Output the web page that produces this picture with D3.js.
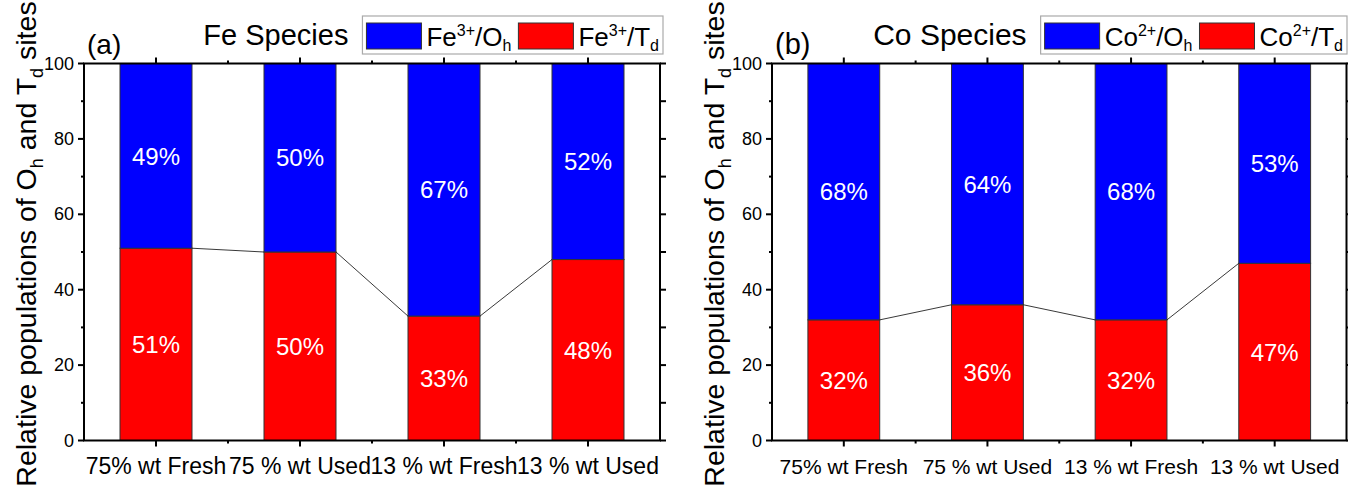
<!DOCTYPE html>
<html>
<head>
<meta charset="utf-8">
<script src="https://cdn.jsdelivr.net/npm/d3@7"></script>
<style>
  html, body { margin: 0; padding: 0; background: #fff; }
  svg { display: block; font-family: "Liberation Sans", Arial, sans-serif; }
  text { white-space: pre; }
</style>
</head>
<body>
<svg id="chart" width="1348" height="486"></svg>
<script>
// categories and values
const categories = ['75% wt Fresh', '75 % wt Used', '13 % wt Fresh', '13 % wt Used'];
const feOh = [49, 50, 67, 52];
const feTd = [51, 50, 33, 48];
const coOh = [68, 64, 68, 53];
const coTd = [32, 36, 32, 47];
const yMajor = [0, 20, 40, 60, 80, 100];
const yMinor = [10, 30, 50, 70, 90];

const BLUE = '#0000ff';
const RED = '#ff0000';

const svg = d3.select('#chart');

function drawPanel(o) {
  const g = svg.append('g');
  const x = d3.scaleBand()
    .domain(categories)
    .range([o.left, o.right])
    .paddingInner(0.5)
    .paddingOuter(0.25);
  const y = d3.scaleLinear().domain([0, 100]).range([o.bottom, o.top]);
  const bw = x.bandwidth();

  // stacked bars: Td at bottom, Oh on top
  const rows = categories.map((c, i) => ({ c, oh: o.oh[i], td: o.td[i] }));

  g.selectAll('rect.td')
    .data(rows)
    .enter()
    .append('rect')
    .attr('class', 'td')
    .attr('x', d => x(d.c))
    .attr('width', bw)
    .attr('y', d => y(d.td))
    .attr('height', d => y(0) - y(d.td))
    .attr('fill', RED)
    .attr('stroke', '#333')
    .attr('stroke-width', 1);

  g.selectAll('rect.oh')
    .data(rows)
    .enter()
    .append('rect')
    .attr('class', 'oh')
    .attr('x', d => x(d.c))
    .attr('width', bw)
    .attr('y', d => y(d.td + d.oh))
    .attr('height', d => y(d.td) - y(d.td + d.oh))
    .attr('fill', BLUE)
    .attr('stroke', '#333')
    .attr('stroke-width', 1);

  // connecting lines between the tops of the red segments
  const links = rows.slice(1).map((d, i) => ({ a: rows[i], b: d }));
  g.selectAll('line.link')
    .data(links)
    .enter()
    .append('line')
    .attr('class', 'link')
    .attr('x1', d => x(d.a.c) + bw)
    .attr('y1', d => y(d.a.td))
    .attr('x2', d => x(d.b.c))
    .attr('y2', d => y(d.b.td))
    .attr('stroke', '#222')
    .attr('stroke-width', 0.9);

  // percentage labels
  const fs = 24;
  g.selectAll('text.lblOh')
    .data(rows)
    .enter()
    .append('text')
    .attr('x', d => x(d.c) + bw / 2)
    .attr('y', d => (y(d.td) + y(d.td + d.oh)) / 2 + fs * 0.36)
    .attr('text-anchor', 'middle')
    .attr('font-size', fs)
    .attr('fill', '#fff')
    .text(d => d.oh + '%');
  g.selectAll('text.lblTd')
    .data(rows)
    .enter()
    .append('text')
    .attr('x', d => x(d.c) + bw / 2)
    .attr('y', d => (y(0) + y(d.td)) / 2 + fs * 0.36)
    .attr('text-anchor', 'middle')
    .attr('font-size', fs)
    .attr('fill', '#fff')
    .text(d => d.td + '%');

  // frame and ticks
  const ax = g.append('g').attr('stroke', '#000').attr('stroke-width', 2);
  ax.append('rect')
    .attr('x', o.left)
    .attr('y', o.top)
    .attr('width', o.right - o.left)
    .attr('height', o.bottom - o.top)
    .attr('fill', 'none');

  const minorX = d3.range(1, categories.length).map(i => o.left + x.step() * i);
  categories.forEach(c => {
    const cx = x(c) + bw / 2;
    ax.append('line').attr('x1', cx).attr('x2', cx).attr('y1', o.bottom).attr('y2', o.bottom + 6);
    ax.append('line').attr('x1', cx).attr('x2', cx).attr('y1', o.top).attr('y2', o.top - 6);
  });
  minorX.forEach(mx => {
    ax.append('line').attr('x1', mx).attr('x2', mx).attr('y1', o.bottom).attr('y2', o.bottom + 3);
    ax.append('line').attr('x1', mx).attr('x2', mx).attr('y1', o.top).attr('y2', o.top - 3);
  });
  yMajor.forEach(v => {
    ax.append('line').attr('x1', o.left - 6).attr('x2', o.left).attr('y1', y(v)).attr('y2', y(v));
    ax.append('line').attr('x1', o.right).attr('x2', o.right + 6).attr('y1', y(v)).attr('y2', y(v));
  });
  yMinor.forEach(v => {
    ax.append('line').attr('x1', o.left - 3).attr('x2', o.left).attr('y1', y(v)).attr('y2', y(v));
    ax.append('line').attr('x1', o.right).attr('x2', o.right + 6).attr('y1', y(v)).attr('y2', y(v));
  });

  // tick labels
  g.selectAll('text.ytick')
    .data(yMajor)
    .enter()
    .append('text')
    .attr('x', o.left - 10)
    .attr('y', d => y(d) + 6)
    .attr('text-anchor', 'end')
    .attr('font-size', 18)
    .text(d => d);

  g.selectAll('text.xtick')
    .data(categories)
    .enter()
    .append('text')
    .attr('x', d => x(d) + bw / 2)
    .attr('y', o.bottom + 33)
    .attr('text-anchor', 'middle')
    .attr('font-size', o.catSize)
    .text(d => d);

  // y axis title with subscripts
  const yt = g.append('text')
    .attr('transform', 'translate(' + (o.left - 48) + ',244) rotate(-90)')
    .attr('text-anchor', 'middle')
    .attr('font-size', 28.5);
  yt.append('tspan').text('Relative populations of O');
  yt.append('tspan').attr('font-size', 18).attr('dy', 7).text('h');
  yt.append('tspan').attr('dy', -7).text('\u00a0and T');
  yt.append('tspan').attr('font-size', 18).attr('dy', 7).text('d');
  yt.append('tspan').attr('dy', -7).text('\u00a0sites');

  // panel letter
  g.append('text')
    .attr('x', o.left + 3)
    .attr('y', 54)
    .attr('font-size', o.titleSize)
    .text(o.letter);

  // legend, laid out from the right
  const lg = g.append('g');
  const items = [
    { color: BLUE, base: o.el, site: 'O', sub: 'h' },
    { color: RED, base: o.el, site: 'T', sub: 'd' }
  ];
  const boxTop = 16;
  const boxH = 38;
  let cursor = 0;
  const parts = [];
  items.forEach(it => {
    const sw = lg.append('rect')
      .attr('y', boxTop + 7)
      .attr('width', 55)
      .attr('height', 26)
      .attr('fill', it.color)
      .attr('stroke', '#333')
      .attr('stroke-width', 1);
    const t = lg.append('text').attr('y', 46).attr('font-size', 26);
    t.append('tspan').text(it.base);
    t.append('tspan').attr('font-size', 16).attr('dy', -10).text(o.charge);
    t.append('tspan').attr('dy', 10).text('/' + it.site);
    t.append('tspan').attr('font-size', 16).attr('dy', 5).text(it.sub);
    parts.push({ sw, t });
  });
  cursor = 4;
  parts.forEach((p, i) => {
    p.sw.attr('x', cursor);
    cursor += 55 + 5;
    p.t.attr('x', cursor);
    cursor += p.t.node().getComputedTextLength() + (i === 0 ? 7 : 4);
  });
  const boxW = cursor;
  const boxLeft = o.legendRight - boxW;
  lg.insert('rect', ':first-child')
    .attr('x', 0)
    .attr('y', boxTop)
    .attr('width', boxW)
    .attr('height', boxH)
    .attr('fill', '#fff')
    .attr('stroke', '#aaa')
    .attr('stroke-width', 1.2);
  lg.attr('transform', 'translate(' + boxLeft + ',0)');

  g.append('text')
    .attr('x', boxLeft - 14)
    .attr('y', 45)
    .attr('text-anchor', 'end')
    .attr('font-size', o.titleSize + 1)
    .text(o.title);
}

drawPanel({
  left: 84, right: 660, top: 63.5, bottom: 440.5,
  oh: feOh, td: feTd,
  letter: '(a)', title: 'Fe Species', el: 'Fe', charge: '3+',
  legendRight: 663, catSize: 23, titleSize: 28
});

drawPanel({
  left: 772, right: 1346.5, top: 63.5, bottom: 440.5,
  oh: coOh, td: coTd,
  letter: '(b)', title: 'Co Species', el: 'Co', charge: '2+',
  legendRight: 1347, catSize: 21, titleSize: 29
});
</script>
</body>
</html>
